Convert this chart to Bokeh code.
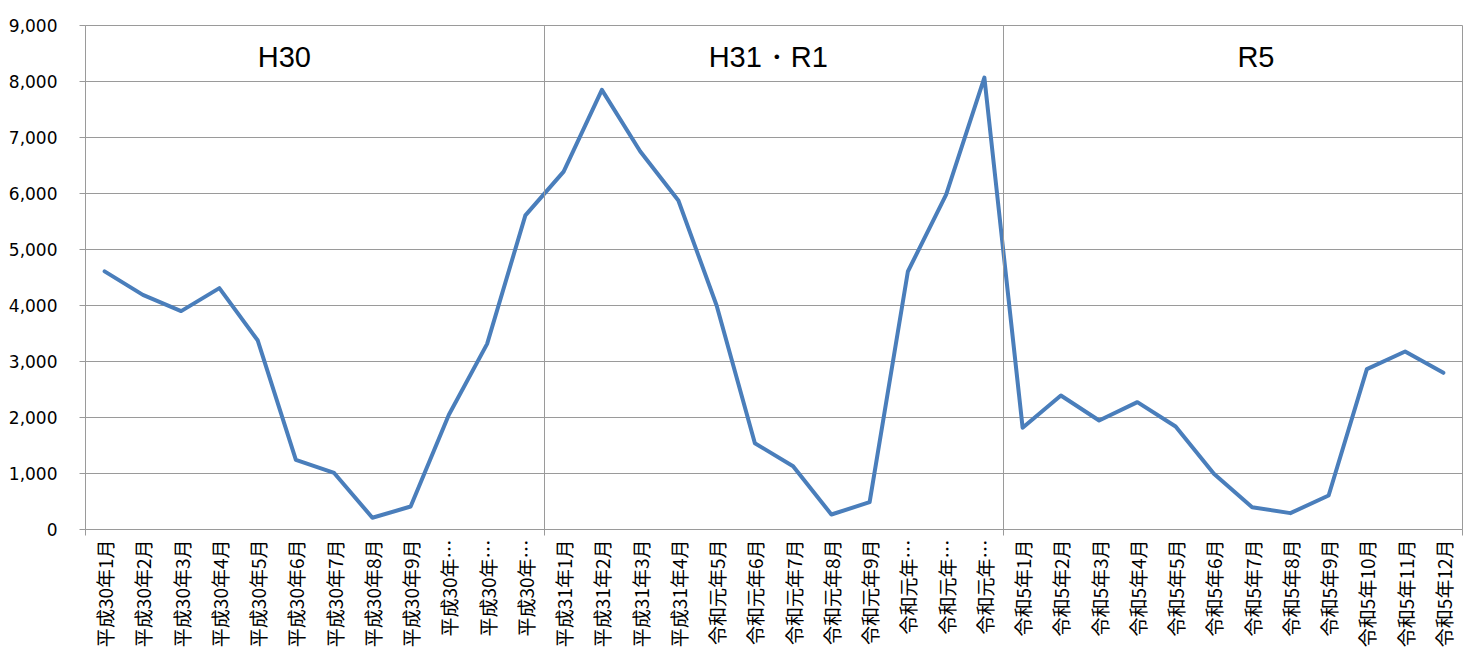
import math
from bokeh.plotting import figure
from bokeh.models import Range1d, FixedTicker, NumeralTickFormatter, Span, ColumnDataSource
from bokeh.core.properties import value
from bokeh.embed import file_html
from bokeh.resources import INLINE

# ---- data ----
labels_h30 = ["平成30年1月", "平成30年2月", "平成30年3月", "平成30年4月", "平成30年5月", "平成30年6月",
              "平成30年7月", "平成30年8月", "平成30年9月", "平成30年…", "平成30年…", "平成30年…"]
labels_r1 = ["平成31年1月", "平成31年2月", "平成31年3月", "平成31年4月", "令和元年5月", "令和元年6月",
             "令和元年7月", "令和元年8月", "令和元年9月", "令和元年…", "令和元年…", "令和元年…"]
labels_r5 = ["令和5年1月", "令和5年2月", "令和5年3月", "令和5年4月", "令和5年5月", "令和5年6月",
             "令和5年7月", "令和5年8月", "令和5年9月", "令和5年10月", "令和5年11月", "令和5年12月"]
values_h30 = [4610, 4190, 3900, 4310, 3380, 1245, 1010, 210, 410, 2050, 3315, 5610]
values_r1 = [6390, 7850, 6755, 5875, 4000, 1540, 1130, 268, 488, 4607, 5980, 8070]
values_r5 = [1816, 2393, 1946, 2274, 1839, 994, 399, 292, 607, 2863, 3179, 2798]
group_names = ["H30", "H31・R1", "R5"]
y_ticks = [0, 1000, 2000, 3000, 4000, 5000, 6000, 7000, 8000, 9000]

labels = labels_h30 + labels_r1 + labels_r5
values = values_h30 + values_r1 + values_r5
n = len(labels)
xs = [i + 0.5 for i in range(n)]

GRID = "#9a9a9a"

p = figure(width=1474, height=652, output_backend="svg", toolbar_location=None,
           x_range=Range1d(0, n), y_range=Range1d(0, 9000),
           min_border_left=85, min_border_top=25, min_border_right=12, min_border_bottom=123)
p.background_fill_color = "white"
p.border_fill_color = "white"
p.outline_line_color = GRID
p.outline_line_width = 1

# y axis
p.yaxis.ticker = FixedTicker(ticks=y_ticks)
p.yaxis.formatter = NumeralTickFormatter(format="0,0")
p.yaxis.axis_line_color = GRID
p.yaxis.major_tick_line_color = GRID
p.yaxis.major_tick_out = 6
p.yaxis.major_tick_in = 0
p.yaxis.minor_tick_line_color = None
p.yaxis.major_label_standoff = 22
p.yaxis.major_label_text_font = "DejaVu Sans"
p.yaxis.major_label_text_font_size = "17px"
p.yaxis.major_label_text_color = "black"
p.ygrid.grid_line_color = GRID
p.ygrid.grid_line_width = 1

# x axis
group_size = len(labels_h30)
bounds = [0, group_size, 2 * group_size, n]
p.xaxis.ticker = FixedTicker(ticks=xs, minor_ticks=bounds)
p.xaxis.major_label_overrides = {x: lab for x, lab in zip(xs, labels)}
p.xaxis.major_label_orientation = math.pi / 2
p.xaxis.major_tick_line_color = None
p.xaxis.minor_tick_line_color = GRID
p.xaxis.minor_tick_out = 6
p.xaxis.minor_tick_in = 0
p.xaxis.axis_line_color = GRID
p.xaxis.major_label_standoff = 4
p.xaxis.major_label_text_font = "Noto Sans CJK JP"
p.xaxis.major_label_text_font_size = "19px"
p.xaxis.major_label_text_color = "black"
p.xgrid.grid_line_color = None

# group separators
for b in bounds[1:-1]:
    p.add_layout(Span(location=b, dimension="height", line_color=GRID, line_width=1))

# line
src = ColumnDataSource(dict(x=xs, y=values))
p.line("x", "y", source=src, line_color="#4a7ebb", line_width=4, line_join="round", line_cap="round")

# group labels
group_label_x = [5.2, 17.85, 30.6]
group_label_y = [8430, 8430, 8430]
p.text(x=group_label_x, y=group_label_y, text=group_names, text_align="center", text_baseline="middle",
       text_font=value("Liberation Sans"), text_font_size="29px", text_color="black")

open("out.html", "w").write(file_html(p, INLINE))
